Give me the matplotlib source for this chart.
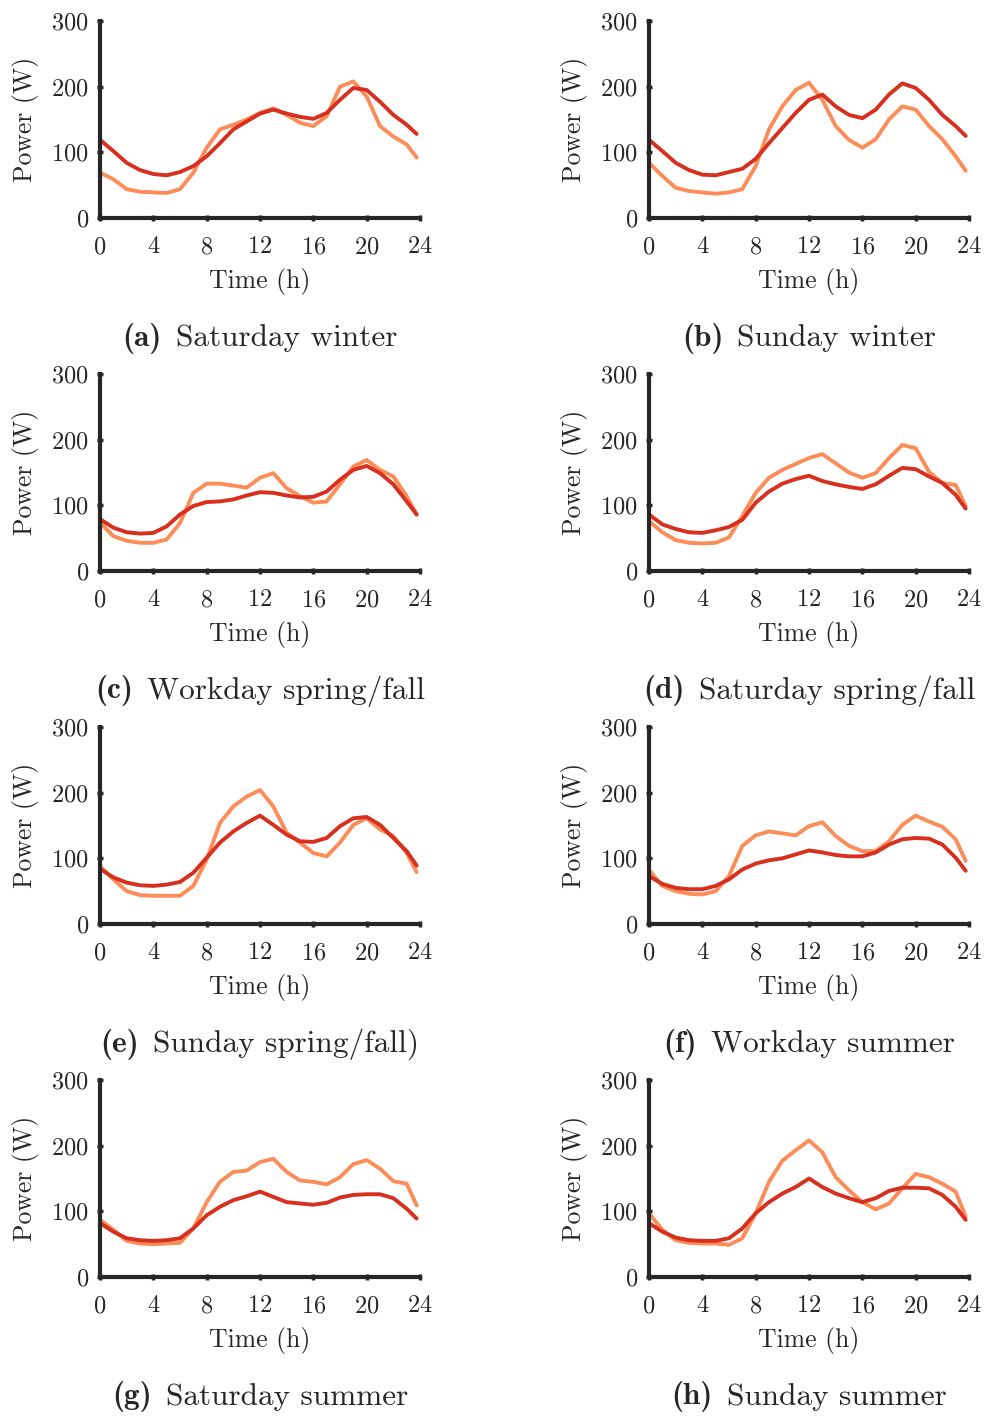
import matplotlib
matplotlib.use("Agg")
import matplotlib.pyplot as plt
import numpy as np

plt.rcParams['font.family'] = ['cmr10']
plt.rcParams['mathtext.fontset'] = 'cm'
plt.rcParams['axes.formatter.use_mathtext'] = True

hours = [0, 1, 2, 3, 4, 5, 6, 7, 8, 9, 10, 11, 12, 13, 14, 15, 16, 17, 18, 19, 20, 21, 22, 23, 23.75]

captions = ['(a)', '(b)', '(c)', '(d)', '(e)', '(f)', '(g)', '(h)']
titles = ['Saturday winter', 'Sunday winter', 'Workday spring/fall', 'Saturday spring/fall',
          'Sunday spring/fall)', 'Workday summer', 'Saturday summer', 'Sunday summer']

# dark red curves
sat_winter_a = [119, 102, 84, 73, 67, 65, 70, 79, 94, 114, 135, 147, 159, 165, 159, 154, 151, 160, 180, 198, 195, 177, 157, 142, 128]
sun_winter_a = [119, 102, 84, 73, 66, 65, 70, 75, 90, 114, 137, 160, 180, 188, 170, 157, 152, 165, 188, 205, 198, 180, 157, 140, 125]
work_spring_a = [79, 66, 59, 57, 58, 68, 86, 99, 105, 106, 109, 115, 120, 119, 115, 112, 113, 121, 139, 154, 160, 149, 132, 106, 86]
sat_spring_a = [86, 71, 64, 59, 58, 62, 67, 78, 104, 121, 133, 140, 145, 137, 132, 128, 125, 132, 145, 157, 155, 144, 134, 116, 95]
sun_spring_a = [84, 71, 63, 59, 58, 60, 64, 78, 101, 124, 141, 154, 165, 151, 136, 126, 125, 131, 149, 161, 163, 151, 131, 111, 89]
work_summer_a = [73, 61, 55, 53, 53, 58, 68, 83, 92, 97, 100, 106, 112, 109, 105, 103, 103, 109, 121, 129, 131, 130, 121, 101, 81]
sat_summer_a = [82, 69, 59, 56, 55, 56, 59, 74, 94, 107, 117, 123, 130, 122, 114, 112, 110, 113, 121, 125, 126, 126, 120, 104, 89]
sun_summer_a = [82, 69, 60, 56, 55, 55, 59, 74, 97, 114, 127, 137, 150, 137, 127, 120, 114, 120, 131, 136, 136, 135, 125, 107, 87]

# orange curves
sat_winter_b = [69, 59, 44, 40, 39, 38, 44, 69, 107, 135, 142, 150, 160, 167, 157, 145, 140, 155, 200, 208, 185, 140, 124, 112, 92]
sun_winter_b = [84, 64, 46, 41, 39, 37, 39, 44, 79, 135, 170, 195, 206, 180, 140, 119, 107, 120, 150, 170, 165, 140, 120, 94, 72]
work_spring_b = [74, 53, 46, 43, 43, 48, 73, 119, 133, 133, 130, 127, 142, 149, 126, 114, 104, 106, 132, 159, 169, 154, 144, 114, 86]
sat_spring_b = [76, 59, 47, 43, 42, 43, 51, 84, 119, 142, 154, 163, 172, 178, 164, 150, 142, 149, 172, 192, 187, 151, 134, 131, 99]
sun_spring_b = [88, 68, 50, 44, 43, 43, 43, 58, 98, 154, 179, 194, 204, 179, 139, 124, 108, 103, 124, 151, 161, 144, 134, 108, 79]
work_summer_b = [82, 58, 50, 46, 45, 50, 73, 119, 135, 141, 138, 135, 149, 155, 134, 119, 111, 111, 126, 151, 165, 156, 148, 129, 96]
sat_summer_b = [87, 72, 55, 51, 50, 51, 52, 74, 114, 145, 160, 162, 175, 180, 160, 147, 145, 141, 152, 172, 178, 165, 146, 142, 109]
sun_summer_b = [97, 72, 56, 52, 51, 51, 49, 59, 97, 145, 177, 193, 208, 190, 152, 132, 114, 103, 112, 135, 157, 152, 142, 130, 92]

dark_series = [sat_winter_a, sun_winter_a, work_spring_a, sat_spring_a,
               sun_spring_a, work_summer_a, sat_summer_a, sun_summer_a]
light_series = [sat_winter_b, sun_winter_b, work_spring_b, sat_spring_b,
                sun_spring_b, work_summer_b, sat_summer_b, sun_summer_b]

dark_col = '#d7301f'
light_col = '#fc8d59'
ink = '#262626'

W, H = 988, 1419
fig = plt.figure(figsize=(W / 100, H / 100), dpi=100)

col_left = [100, 649]
col_width = 320
row_bottom = [218, 571, 924, 1277]
ax_height = 197
cap_size = 22.5

pieces = []
for i in range(8):
  r, c = divmod(i, 2)
  x0 = col_left[c] / W
  y0 = 1 - row_bottom[r] / H
  ax = fig.add_axes([x0, y0, col_width / W, ax_height / H])
  ax.plot(hours, light_series[i], color=light_col, lw=2.8, solid_capstyle='round', solid_joinstyle='round')
  ax.plot(hours, dark_series[i], color=dark_col, lw=2.8, solid_capstyle='round', solid_joinstyle='round')
  ax.set_xlim(0, 24)
  ax.set_ylim(0, 300)
  ax.set_xticks([0, 4, 8, 12, 16, 20, 24])
  ax.set_yticks([0, 100, 200, 300])
  for s in ['top', 'right']:
    ax.spines[s].set_visible(False)
  for s in ['left', 'bottom']:
    ax.spines[s].set_linewidth(3)
    ax.spines[s].set_color(ink)
  ax.tick_params(direction='inout', length=4, width=2.5, color=ink,
                 labelsize=17.5, labelcolor=ink)
  ax.tick_params(axis='x', pad=11)
  ax.tick_params(axis='y', pad=6)
  ax.set_xlabel('Time (h)', fontsize=18.5, color=ink, labelpad=7)
  ax.set_ylabel('Power (W)', fontsize=18.5, color=ink, labelpad=9)
  cx = (col_left[c] + col_width / 2) / W
  cy = 1 - (row_bottom[r] + 120) / H
  t1 = fig.text(cx, cy, captions[i], ha='left', va='center', fontsize=cap_size,
                color=ink, family='cmb10')
  t2 = fig.text(cx, cy, titles[i], ha='left', va='center', fontsize=cap_size,
                color=ink)
  pieces.append((cx, t1, t2))

# center the bold label + title pairs
fig.canvas.draw()
rend = fig.canvas.get_renderer()
gap = 14
for cx, t1, t2 in pieces:
  w1 = t1.get_window_extent(rend).width
  w2 = t2.get_window_extent(rend).width
  left = cx * W - (w1 + gap + w2) / 2
  t1.set_x(left / W)
  t2.set_x((left + w1 + gap) / W)

fig.savefig('out.png', dpi=100)
